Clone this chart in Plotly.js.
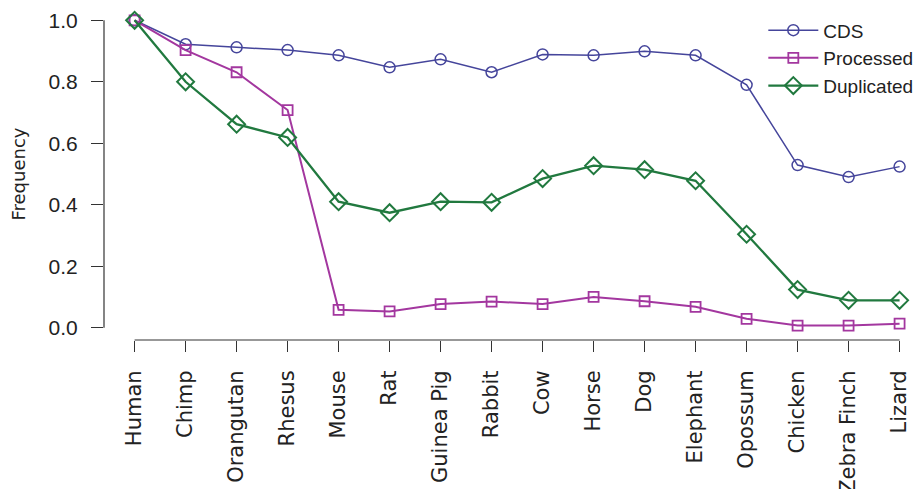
<!DOCTYPE html>
<html>
<head>
<meta charset="utf-8">
<script src="https://cdn.plot.ly/plotly-3.0.1.min.js"></script>
<style>html,body{margin:0;padding:0;background:#fff;overflow:hidden;}</style>
</head>
<body>
<div id="chart" style="width:921px;height:489px;"></div>
<script>
const species = ["Human","Chimp","Orangutan","Rhesus","Mouse","Rat","Guinea Pig","Rabbit","Cow","Horse","Dog","Elephant","Opossum","Chicken","Zebra Finch","Lizard"];
const cds        = [1.0, 0.922, 0.912, 0.903, 0.886, 0.847, 0.873, 0.831, 0.889, 0.886, 0.899, 0.886, 0.790, 0.529, 0.490, 0.524];
const processed  = [1.0, 0.903, 0.831, 0.708, 0.058, 0.053, 0.077, 0.085, 0.077, 0.100, 0.086, 0.068, 0.029, 0.007, 0.007, 0.013];
const duplicated = [1.0, 0.800, 0.662, 0.619, 0.410, 0.374, 0.410, 0.408, 0.485, 0.527, 0.514, 0.478, 0.304, 0.124, 0.089, 0.089];
const yTicks = [0, 0.2, 0.4, 0.6, 0.8, 1.0];

const FONT = "Liberation Sans, Arial, Helvetica, sans-serif";
const WIDE = "DejaVu Sans, Liberation Sans, sans-serif";
const cCDS = "#45459b", cProc = "#a3379f", cDup = "#21793f";

const traces = [
  {x: species, y: cds, name: "CDS", type: "scatter", mode: "lines+markers",
   line: {color: cCDS, width: 1.5}, marker: {symbol: "circle-open", size: 11, color: cCDS, line: {width: 1.5}}},
  {x: species, y: processed, name: "Processed", type: "scatter", mode: "lines+markers",
   line: {color: cProc, width: 2}, marker: {symbol: "square-open", size: 10, color: cProc, line: {width: 1.8}}},
  {x: species, y: duplicated, name: "Duplicated", type: "scatter", mode: "lines+markers",
   line: {color: cDup, width: 2.3}, marker: {symbol: "diamond-open", size: 13, color: cDup, line: {width: 2}}}
];

const layout = {
  width: 921, height: 489,
  margin: {l: 104, r: 0, t: 8, b: 149},
  paper_bgcolor: "#fff", plot_bgcolor: "#fff",
  font: {family: FONT, color: "#222", size: 21},
  showlegend: true,
  legend: {x: 0.807, y: 0.99, xanchor: "left", yanchor: "top", bgcolor: "rgba(0,0,0,0)",
           font: {family: FONT, size: 19, color: "#222"}, tracegroupgap: 0, itemwidth: 50},
  xaxis: {type: "category", range: [-0.6, 15.42], showgrid: false, zeroline: false, showline: false,
          ticks: "outside", ticklen: 11, tickwidth: 1.2, tickcolor: "#333",
          tickangle: -90, tickfont: {family: WIDE, size: 21, color: "#222"}, ticklabelstandoff: 10, fixedrange: true},
  yaxis: {range: [-0.04, 1.04], showgrid: false, zeroline: false, showline: false,
          tickvals: yTicks, tickformat: ".1f",
          ticks: "outside", ticklen: 12, tickwidth: 1.2, tickcolor: "#333",
          tickfont: {family: FONT, size: 21, color: "#222"}, ticklabelstandoff: 9,
          title: {text: "Frequency", font: {family: WIDE, size: 18, color: "#222"}, standoff: 18}},
  shapes: [
    {type: "line", xref: "x", yref: "paper", x0: 0, x1: species.length - 1, y0: 0, y1: 0, line: {color: "#333", width: 1.2}},
    {type: "line", xref: "paper", yref: "y", x0: 0, x1: 0, y0: yTicks[0], y1: yTicks[yTicks.length - 1], line: {color: "#333", width: 1.2}}
  ]
};

Plotly.newPlot("chart", traces, layout, {displayModeBar: false, staticPlot: true});
</script>
</body>
</html>
